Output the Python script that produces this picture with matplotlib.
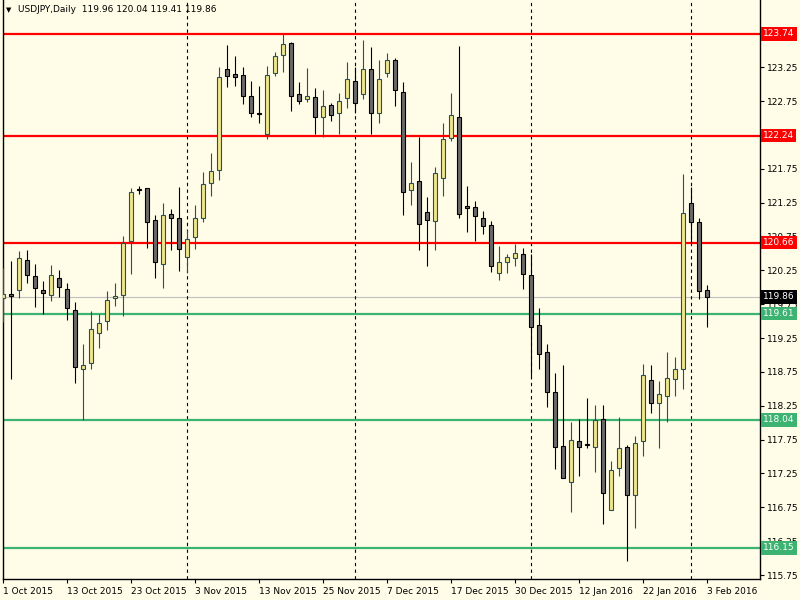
import matplotlib.pyplot as plt

# USDJPY daily candles, 1 Oct 2015 .. 3 Feb 2016
opens = [119.84, 119.90, 119.96, 120.40, 120.16, 119.96, 119.88, 120.13, 119.98, 119.67,
         118.80, 118.88, 119.33, 119.50, 119.84, 119.88, 120.68, 121.45, 121.46, 121.00,
         120.35, 121.08, 121.03, 120.44, 120.74, 121.03, 121.54, 121.73, 123.23, 123.15,
         123.13, 122.83, 122.57, 122.27, 123.16, 123.43, 123.60, 122.85, 122.78, 122.81,
         122.52, 122.69, 122.58, 122.79, 123.04, 122.85, 123.23, 122.57, 123.17, 123.35,
         122.89, 121.43, 121.57, 121.11, 120.98, 121.62, 122.21, 122.52, 121.20, 121.18,
         121.03, 120.92, 120.21, 120.38, 120.43, 120.49, 120.18, 119.44, 119.04, 118.46,
         117.65, 117.12, 117.73, 117.68, 117.64, 118.05, 116.71, 117.33, 117.64, 116.93,
         117.73, 118.63, 118.29, 118.40, 118.65, 118.79, 121.25, 120.96, 119.96]
highs = [120.28, 120.39, 120.54, 120.55, 120.34, 120.09, 120.33, 120.26, 120.06, 119.78,
         119.16, 119.65, 119.60, 119.94, 120.07, 120.75, 121.46, 121.49, 121.46, 121.06,
         121.24, 121.16, 121.48, 120.84, 121.21, 121.70, 121.98, 123.25, 123.58, 123.42,
         123.26, 123.04, 122.97, 123.27, 123.47, 123.74, 123.62, 123.03, 123.24, 122.94,
         122.91, 122.72, 122.87, 123.33, 123.25, 123.65, 123.55, 123.36, 123.46, 123.39,
         123.03, 121.85, 122.22, 121.33, 121.78, 122.43, 122.87, 123.56, 121.50, 121.28,
         121.12, 120.98, 120.61, 120.49, 120.64, 120.58, 120.49, 119.69, 119.16, 118.74,
         118.85, 118.01, 118.05, 118.36, 118.26, 118.26, 117.43, 118.09, 117.67, 117.80,
         118.86, 118.85, 118.62, 119.05, 118.97, 121.67, 121.48, 121.02, 120.04]
lows = [119.48, 118.65, 119.84, 120.07, 119.71, 119.60, 119.80, 119.86, 119.52, 118.59,
        118.04, 118.80, 119.11, 119.37, 119.73, 119.58, 120.20, 121.37, 120.58, 120.14,
        119.99, 120.55, 120.24, 120.21, 120.57, 120.97, 121.35, 121.59, 122.95, 122.97,
        122.70, 122.52, 122.42, 122.19, 123.12, 123.18, 122.61, 122.70, 122.74, 122.27,
        122.22, 122.46, 122.27, 122.65, 122.57, 122.78, 122.27, 122.43, 123.11, 122.68,
        121.06, 121.22, 120.55, 120.32, 120.55, 121.35, 122.16, 121.03, 120.82, 120.69,
        120.79, 120.23, 120.10, 120.21, 120.32, 119.98, 118.69, 118.79, 118.23, 117.31,
        117.18, 116.68, 117.21, 117.62, 117.27, 116.50, 116.71, 117.21, 115.96, 116.45,
        117.51, 118.15, 117.63, 118.01, 118.40, 118.50, 120.66, 119.82, 119.41]
closes = [119.90, 119.87, 120.43, 120.18, 119.99, 119.91, 120.18, 120.00, 119.70, 118.82,
          118.85, 119.39, 119.47, 119.81, 119.87, 120.66, 121.40, 121.44, 120.97, 120.37,
          121.06, 121.02, 120.56, 120.72, 121.03, 121.53, 121.71, 123.10, 123.12, 123.10,
          122.83, 122.58, 122.56, 123.13, 123.41, 123.59, 122.83, 122.75, 122.82, 122.51,
          122.67, 122.54, 122.75, 123.07, 122.72, 123.22, 122.58, 123.07, 123.35, 122.91,
          121.41, 121.54, 120.94, 121.00, 121.68, 122.19, 122.54, 121.08, 121.17, 121.05,
          120.90, 120.32, 120.38, 120.44, 120.50, 120.19, 119.42, 119.02, 118.45, 117.64,
          117.19, 117.74, 117.64, 117.67, 118.04, 116.96, 117.30, 117.62, 116.93, 117.70,
          118.71, 118.29, 118.42, 118.66, 118.80, 121.09, 120.97, 119.94, 119.86]

date_pos = [0, 8, 16, 24, 32, 40, 48, 56, 64, 72, 80, 88]
date_labels = ['1 Oct 2015', '13 Oct 2015', '23 Oct 2015', '3 Nov 2015', '13 Nov 2015',
               '25 Nov 2015', '7 Dec 2015', '17 Dec 2015', '30 Dec 2015', '12 Jan 2016',
               '22 Jan 2016', '3 Feb 2016']
month_starts = [23, 44, 66, 86]

price_ticks = [115.75 + 0.5 * k for k in range(17)]
# labels that sit fully under a level box on the original are left blank
hidden_ticks = [122.25, 123.75]

resistance = [123.74, 122.24, 120.66]
support = [119.61, 118.04, 116.15]
last_price = 119.86

bg = '#fffde8'
bull_fill, bull_edge = '#f0e68c', '#2f4f4f'
bear_fill, bear_edge = '#696969', '#000000'
fs = 6.5

fig = plt.figure(figsize=(8, 6), dpi=100, facecolor=bg)
ax = fig.add_axes([2.5 / 800, 21 / 600, 757.5 / 800, 579 / 600], facecolor=bg)

x = list(range(len(opens)))
up = [c >= o for o, c in zip(opens, closes)]

# wicks and bodies
ax.vlines(x, lows, highs, colors=[bull_edge if u else bear_edge for u in up],
          lw=0.8, zorder=3)
bottoms = [min(o, c) for o, c in zip(opens, closes)]
heights = [max(abs(c - o), 0.005) for o, c in zip(opens, closes)]
ax.bar(x, heights, bottom=bottoms, width=0.55,
       color=[bull_fill if u else bear_fill for u in up],
       edgecolor=[bull_edge if u else bear_edge for u in up], linewidth=0.8, zorder=4)

# levels
for lv in resistance:
    ax.axhline(lv, color='#ff0000', lw=1.6, zorder=2)
for lv in support:
    ax.axhline(lv, color='#3cb371', lw=1.6, zorder=2)
ax.axhline(last_price, color='#c0c0c0', lw=0.8, zorder=1.5)

# period separators
for m in month_starts:
    ax.axvline(m, color='black', lw=0.8, linestyle=(0, (3, 3)), zorder=1.8)

ax.set_xlim(-0.1, 94.6)
ax.set_ylim(115.692, 124.242)

ax.yaxis.tick_right()
ax.set_yticks(price_ticks)
ax.set_yticklabels(['' if t in hidden_ticks else '%.2f' % t for t in price_ticks])
ax.set_xticks(date_pos)
ax.set_xticklabels(date_labels, ha='left')
ax.tick_params(axis='both', direction='out', length=3, width=0.8, pad=2,
               labelsize=fs, colors='black')
ax.tick_params(axis='x', pad=3)

for s in ['left', 'right', 'bottom']:
    ax.spines[s].set_color('black')
    ax.spines[s].set_linewidth(1.0)
ax.spines['top'].set_visible(False)

# price boxes on the right scale
trans = ax.get_yaxis_transform()
for lv, col in [(v, '#ff0000') for v in resistance] + [(v, '#3cb371') for v in support] + [(last_price, '#000000')]:
    ax.text(1.004, lv, '%.2f' % lv, transform=trans, color='white', fontsize=fs,
            va='center', ha='left', clip_on=False, zorder=6,
            bbox=dict(boxstyle='square,pad=0.25', fc=col, ec='none'))

# chart caption
fig.text(6 / 800, 1 - 10 / 600, '\u25bc', fontsize=5, va='center', ha='left', color='black')
fig.text(18 / 800, 1 - 10 / 600, 'USDJPY,Daily  119.96 120.04 119.41 119.86',
         fontsize=fs, va='center', ha='left', color='black')

fig.savefig('out.png', dpi=100, facecolor=bg)
